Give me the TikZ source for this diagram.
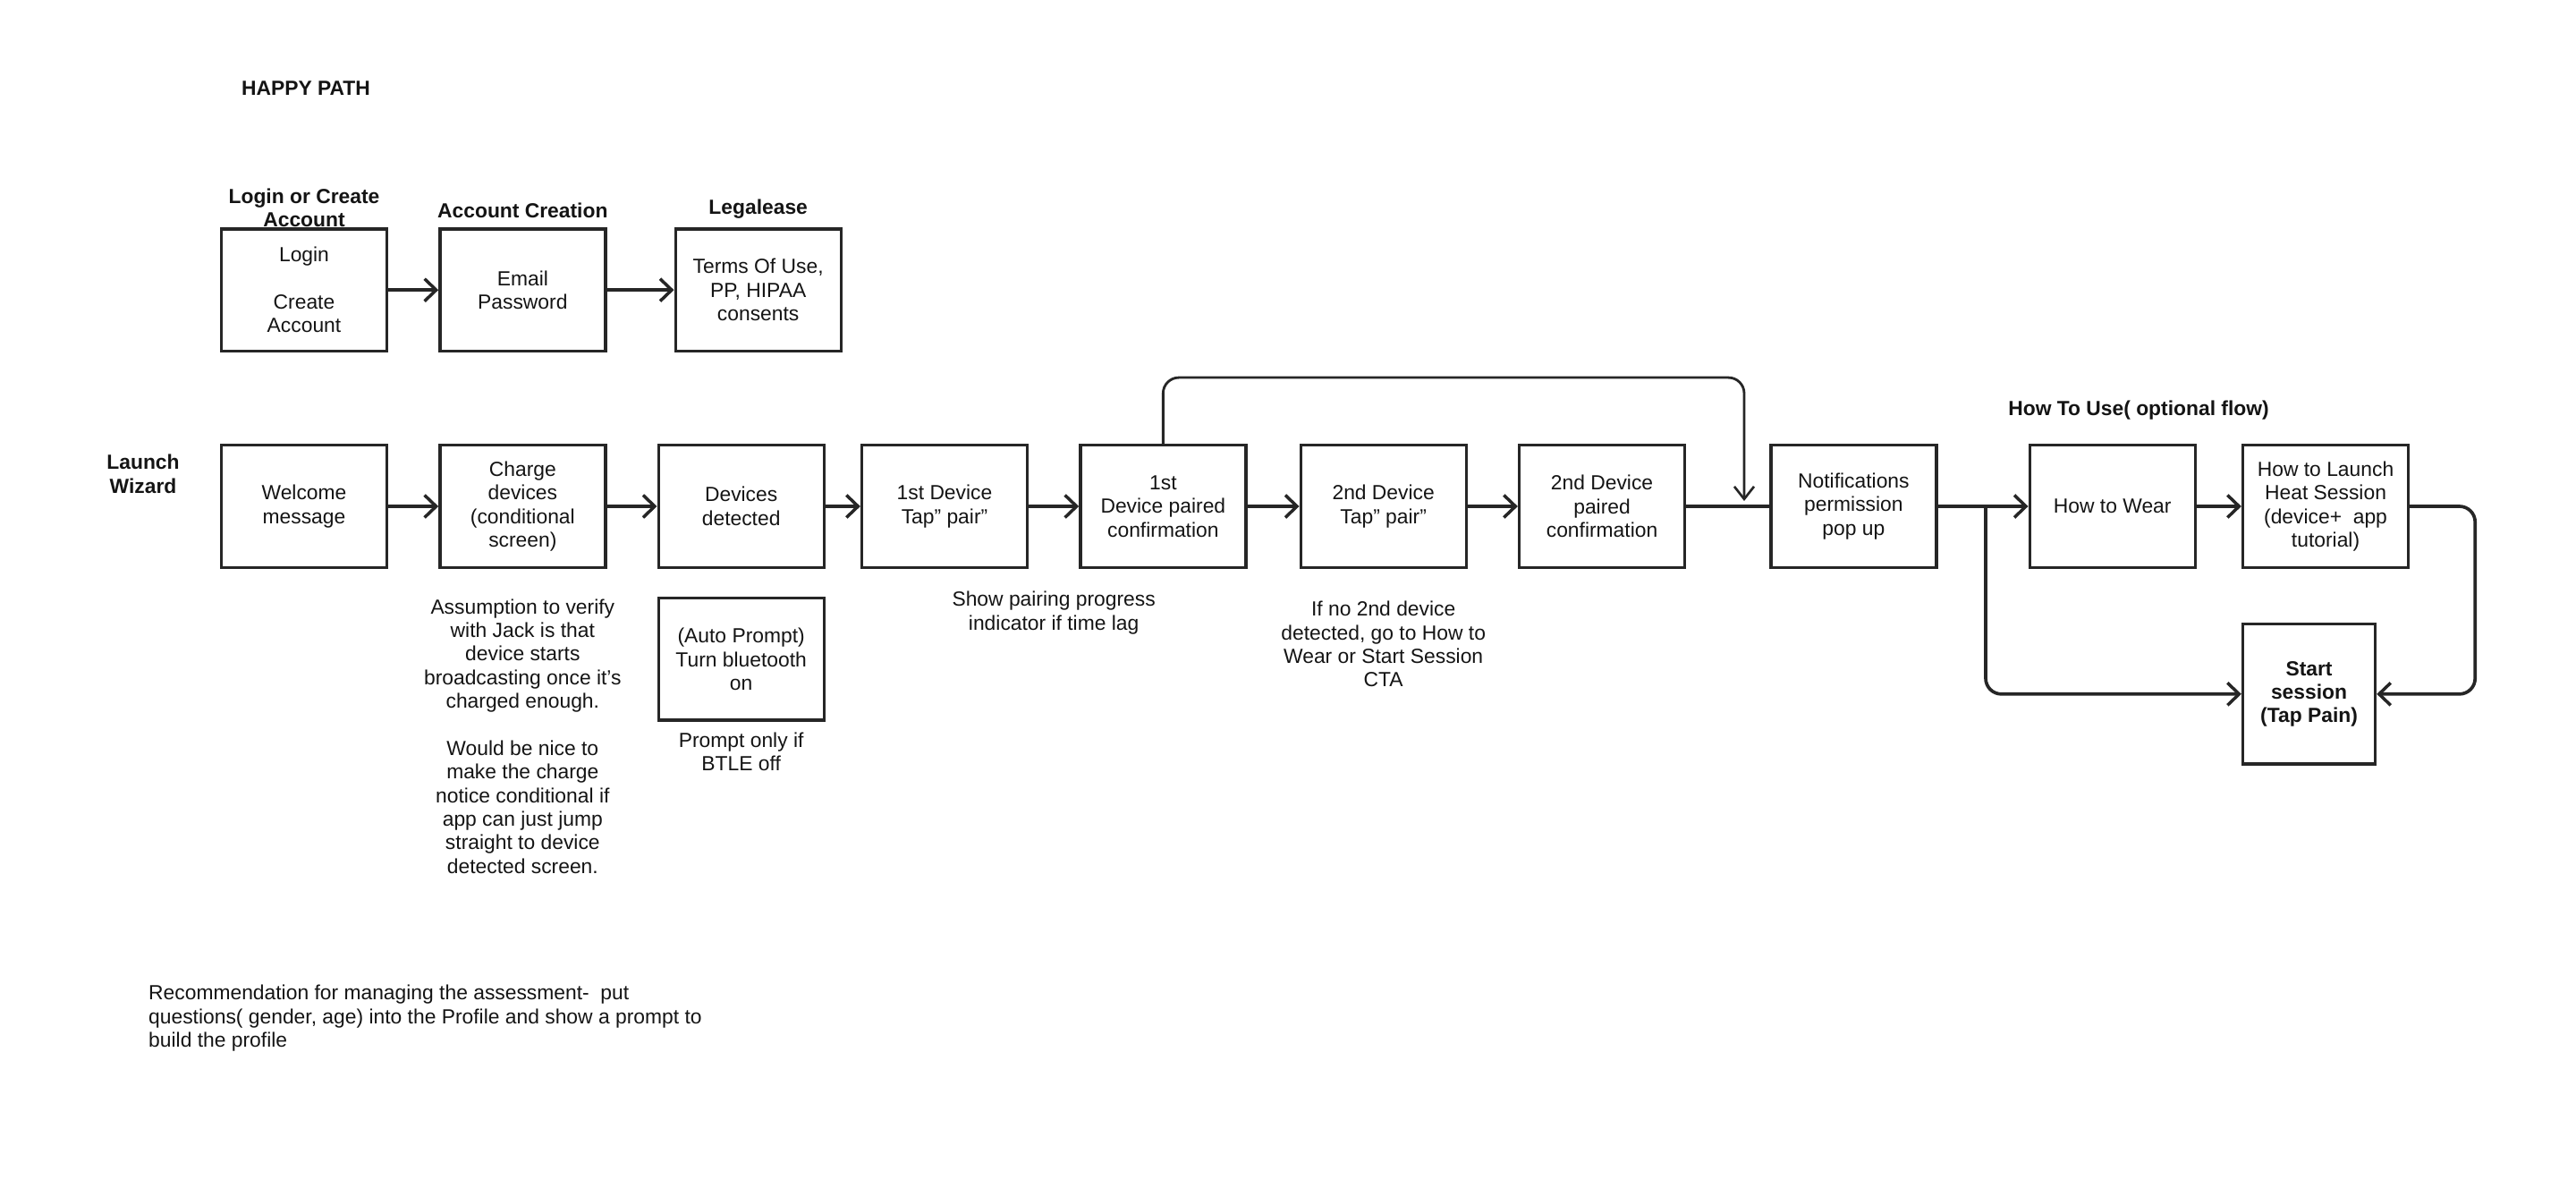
\documentclass[tikz,border=0pt]{standalone}
\usepackage{fontspec}
\setmainfont{Liberation Sans}
\usetikzlibrary{arrows.meta,positioning,calc}
\definecolor{wline}{RGB}{38,38,38}
\definecolor{wtext}{RGB}{20,20,20}
\tikzset{
  wbox/.style={rectangle, draw=wline, line width=1.9pt, text=wtext, align=center,
               font=\fontsize{13}{15}\selectfont, minimum width=3.7cm, minimum height=2.73cm},
  wnote/.style={align=center, text=wtext, font=\fontsize{13}{15}\selectfont},
  whead/.style={align=center, text=wtext, font=\fontsize{13}{15}\selectfont\bfseries},
  warr/.style={-{Straight Barb[length=2.6mm,width=5mm,line width=2pt]}, line width=2.1pt, wline},
  wloop/.style={-{Straight Barb[length=2.8mm,width=4.4mm,line width=1.5pt]}, line width=1.6pt, wline, rounded corners=10pt},
}
\begin{document}
\begin{tikzpicture}[node distance=1.12cm and 1.12cm]
        \useasboundingbox (0,0) rectangle (57.6,-26.56);
        % main row
        \node[wbox](wel) at (6.8,-11.32){Welcome\\message};
        \node[wbox,right=of wel](chg){Charge\\devices\\(conditional\\screen)};
        \node[wbox,right=of chg](det){Devices\\detected};
        \node[wbox,right=0.78cm of det](tap1){1st Device\\Tap" pair"};
        \node[wbox,right=of tap1](conf1){1st\\Device paired\\confirmation};
        \node[wbox,right=1.16cm of conf1](tap2){2nd Device\\Tap" pair"};
        \node[wbox,right=of tap2](conf2){2nd Device\\paired\\confirmation};
        \node[wbox,right=1.86cm of conf2](notif){Notifications\\permission\\pop up};
        \node[wbox,right=2.02cm of notif](wear){How to Wear};
        \node[wbox,right=1.0cm of wear](howl){How to Launch\\Heat Session\\(device+\ \ app\\tutorial)};
        \node[wbox,font=\fontsize{13}{15}\selectfont\bfseries,minimum width=2.96cm,minimum height=3.13cm,
              below=1.2cm of howl.south west,anchor=north west](start){Start\\session\\(Tap Pain)};
        % account row
        \node[wbox,above=2.04cm of wel](login){Login\\ \\Create\\Account};
        \node[wbox,right=of login](mail){Email\\Password};
        \node[wbox,right=1.5cm of mail](legal){Terms Of Use,\\PP, HIPAA\\consents};
        \node[wbox,below=0.62cm of det](bt){(Auto Prompt)\\Turn bluetooth\\on};
        % headings
        \node[whead](happy) at (6.84,-1.98){HAPPY PATH};
        \node[whead,above=-0.12cm of login](loginh){Login or Create\\Account};
        \node[whead,above=0.08cm of mail](mailh){Account Creation};
        \node[whead,above=0.08cm of legal](legalh){Legalease};
        \node[whead](wiz) at (3.2,-10.6){Launch\\Wizard};
        \node[whead](howh) at (47.82,-9.18){How To Use( optional flow)};
        % notes
        \node[wnote,below=0.55cm of chg](assume){Assumption to verify\\with Jack is that\\device starts\\broadcasting once it's\\charged enough.\\ \\Would be nice to\\make the charge\\notice conditional if\\app can just jump\\straight to device\\detected screen.};
        \node[wnote,below=0.12cm of bt](btle){Prompt only if\\BTLE off};
        \node[wnote,anchor=north](prog) at ($(tap1.south east)!0.5!(conf1.south west)+(0,-0.38)$){Show pairing progress\\indicator if time lag};
        \node[wnote,below=0.6cm of tap2](nodev){If no 2nd device\\detected, go to How to\\Wear or Start Session\\CTA};
        \node[wnote,align=left,anchor=north west](rec) at (3.2,-21.9){Recommendation for managing the assessment-\ \ put\\questions( gender, age) into the Profile and show a prompt to\\build the profile};
        % connectors
        \coordinate (merge) at (39.0,-11.32);
        \coordinate (split) at (44.4,-11.32);
        \draw[warr](login)--(mail);\draw[warr](mail)--(legal);
        \draw[warr](wel)--(chg);\draw[warr](chg)--(det);\draw[warr](det)--(tap1);\draw[warr](tap1)--(conf1);
        \draw[warr](conf1)--(tap2);\draw[warr](tap2)--(conf2);
        \draw[line width=2.1pt,wline](conf2)--(notif);
        \draw[wloop](conf1.north)--++(0,1.48)-|($(merge)+(0,0.12)$);
        \draw[warr](notif)--(wear);\draw[warr](wear)--(howl);
        \draw[warr,rounded corners=10pt](split)|-(start.west);
        \draw[warr,rounded corners=10pt](howl.east)--++(1.46,0)|-(start.east);
    \end{tikzpicture}
\end{document}
